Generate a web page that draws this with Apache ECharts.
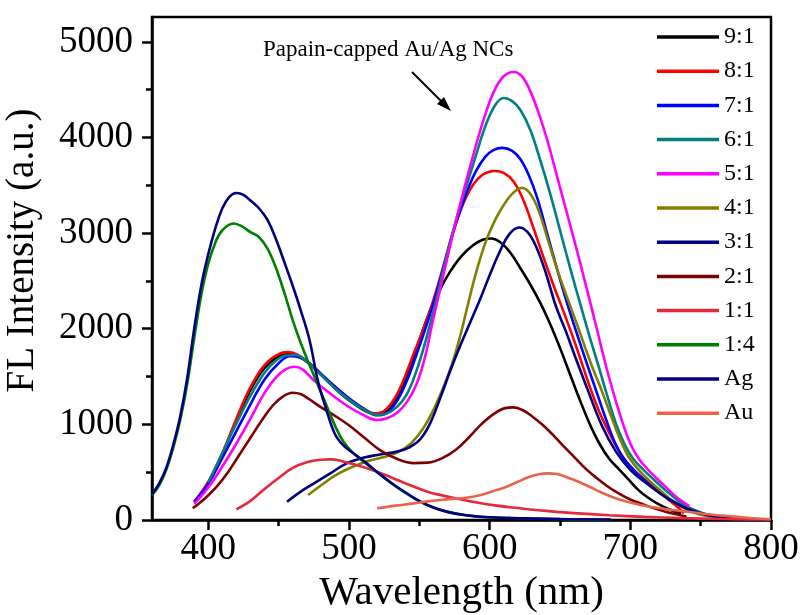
<!DOCTYPE html>
<html>
<head>
<meta charset="utf-8">
<script src="https://cdn.jsdelivr.net/npm/echarts@6/dist/echarts.min.js"></script>
<style>
  html, body { margin: 0; padding: 0; background: #fff; }
  #chart { width: 801px; height: 615px; }
</style>
</head>
<body>
<div id="chart"></div>
<script>
// wavelength (nm) / FL intensity (a.u.) pairs
const s91 = [[400,380],[410,690],[420,1040],[430,1360],[440,1590],[450,1710],[458,1735],[465,1705],[475,1600],[485,1450],[495,1310],[505,1200],[513,1130],[520,1110],[527,1150],[535,1300],[543,1580],[551,1920],[558,2200],[565,2420],[572,2600],[580,2760],[588,2870],[595,2930],[601,2944],[608,2900],[615,2790],[622,2630],[629,2460],[636,2270],[643,2050],[650,1800],[657,1530],[664,1260],[671,1010],[678,800],[685,640],[692,530],[699,420],[706,310],[713,230],[720,165],[727,115],[736,65]];
const s81 = [[390,190],[400,400],[410,700],[420,1060],[430,1390],[440,1620],[450,1735],[457,1755],[464,1725],[472,1640],[482,1500],[492,1370],[502,1250],[511,1160],[518,1115],[525,1140],[532,1260],[539,1470],[546,1740],[553,2000],[560,2300],[567,2650],[574,3010],[581,3300],[588,3500],[595,3610],[603,3650],[610,3630],[617,3540],[624,3344],[631,3060],[638,2760],[645,2470],[652,2200],[659,1920],[666,1620],[672,1360],[678,1130],[684,940],[690,770],[696,630],[702,530],[708,450],[715,370],[722,280],[729,190],[734,130],[738,70]];
const s71 = [[390,190],[400,380],[410,650],[420,930],[430,1210],[440,1470],[450,1640],[458,1712],[465,1700],[472,1630],[482,1500],[492,1370],[502,1250],[511,1160],[520,1095],[527,1120],[534,1240],[541,1450],[548,1730],[555,2030],[562,2360],[569,2740],[576,3100],[583,3400],[590,3640],[597,3800],[603,3870],[609,3891],[616,3860],[622,3770],[628,3600],[634,3360],[641,2990],[648,2620],[655,2270],[662,1950],[669,1640],[676,1340],[683,1040],[689,810],[695,650],[702,530],[709,430],[716,340],[724,250],[732,185],[740,135],[748,88],[756,50],[765,25],[775,11],[788,4],[800,2]];
const s61 = [[400,390],[410,700],[420,1010],[430,1300],[440,1540],[448,1665],[455,1720],[462,1725],[469,1670],[477,1560],[487,1420],[498,1280],[509,1170],[520,1100],[527,1115],[534,1180],[541,1310],[548,1560],[555,1900],[562,2300],[569,2740],[576,3130],[583,3470],[590,3800],[597,4120],[604,4340],[610,4413],[616,4380],[622,4285],[629,4076],[636,3762],[643,3414],[650,3031],[657,2647],[664,2280],[671,1920],[678,1580],[684,1280],[690,1000],[696,790],[702,640],[709,530],[717,418],[725,310],[733,215],[741,135],[750,75],[760,36],[770,16],[785,6],[800,2]];
const s51 = [[390,170],[400,340],[410,560],[420,800],[430,1060],[440,1330],[448,1490],[455,1575],[461,1602],[467,1575],[475,1460],[486,1330],[498,1200],[510,1100],[520,1045],[527,1065],[534,1120],[541,1230],[548,1420],[554,1700],[559,2040],[564,2360],[569,2680],[575,3060],[582,3470],[589,3850],[596,4200],[603,4480],[610,4640],[617,4685],[623,4640],[629,4480],[635,4250],[641,3971],[648,3588],[655,3205],[662,2822],[669,2420],[676,2010],[682,1650],[688,1330],[694,1040],[700,800],[706,640],[713,520],[720,418],[727,320],[734,225],[742,146]];
const s41 = [[471,261],[480,360],[490,465],[500,540],[512,610],[524,655],[535,710],[544,800],[552,940],[559,1120],[566,1350],[573,1620],[579,1920],[585,2280],[591,2620],[597,2900],[603,3110],[609,3270],[616,3410],[623,3473],[629,3410],[635,3230],[641,2950],[648,2620],[655,2330],[662,2050],[668,1800],[674,1560],[680,1340],[686,1100],[692,870],[698,680],[705,540],[713,420],[722,300],[731,190],[740,110],[750,55],[762,28],[774,15],[787,7],[800,3]];
const s31 = [[456,191],[466,300],[476,390],[487,490],[498,590],[510,650],[522,685],[534,715],[543,760],[551,850],[558,1020],[565,1280],[572,1560],[579,1820],[586,2060],[593,2300],[600,2560],[607,2800],[614,2990],[621,3059],[627,3010],[633,2860],[640,2580],[647,2240],[654,1980],[661,1700],[670,1350],[680,980],[690,710],[700,525],[710,400],[720,290],[730,195],[740,120],[750,70],[760,36],[775,12],[790,5],[800,2]];
const s21 = [[389,122],[398,230],[406,348],[414,500],[422,680],[430,860],[438,1040],[446,1200],[453,1290],[460,1330],[466,1315],[472,1260],[480,1180],[490,1090],[500,990],[511,860],[522,731],[534,640],[546,595],[556,600],[566,645],[576,735],[585,860],[594,1000],[603,1110],[611,1170],[617,1178],[624,1145],[631,1075],[638,990],[645,890],[652,780],[660,661],[668,540],[676,440],[684,350],[692,275],[700,215],[708,170],[716,128],[724,92],[732,62],[740,35]];
const s11 = [[420,112],[430,200],[440,325],[450,440],[460,545],[470,605],[480,630],[487,634],[495,615],[505,575],[515,530],[525,475],[535,415],[545,355],[557,290],[567,255],[578,220],[590,185],[605,150],[620,125],[640,95],[660,72],[685,50],[710,33],[735,20],[765,10],[800,5]];
const s14 = [[360,260],[365,360],[370,520],[375,750],[380,1040],[385,1420],[390,1900],[395,2350],[400,2680],[405,2900],[410,3030],[418,3100],[424,3070],[430,3010],[436,2960],[442,2840],[448,2640],[454,2380],[460,2090],[466,1840],[472,1620],[478,1410],[484,1200],[490,990],[496,820],[503,700],[512,590],[521,490],[530,385],[540,285],[550,195],[560,130],[570,85],[582,52],[600,28],[650,10],[686,5]];
const sAg = [[360,270],[365,380],[370,540],[375,780],[380,1080],[385,1480],[390,2000],[395,2450],[400,2780],[405,3050],[410,3260],[415,3380],[420,3420],[425,3400],[430,3340],[436,3260],[442,3140],[448,2940],[454,2700],[460,2450],[466,2180],[472,1880],[478,1450],[484,1150],[490,900],[496,780],[503,700],[512,600],[521,490],[530,390],[540,290],[550,200],[560,130],[570,85],[582,52],[595,32],[615,20],[650,10],[686,5]];
const sAu = [[520,122],[533,150],[546,174],[556,195],[565,209],[575,222],[582,230],[589,246],[597,275],[605,315],[612,348],[620,400],[628,450],[635,478],[641,488],[648,480],[656,440],[664,395],[671,348],[679,290],[690,225],[702,174],[715,135],[728,108],[741,87],[757,57],[774,35],[787,18],[800,8]];

const names = ['9:1','8:1','7:1','6:1','5:1','4:1','3:1','2:1','1:1','1:4','Ag','Au'];
const curves = [s91, s81, s71, s61, s51, s41, s31, s21, s11, s14, sAg, sAu];
const colors = ['#000000','#ff0000','#0000ff','#008080','#ff00ff','#808000','#000080','#800000','#e6283c','#008000','#000080','#e9634b'];

const xMajor = [400, 500, 600, 700, 800];
const xMinor = [450, 550, 650, 750];
const yMajor = [0, 1000, 2000, 3000, 4000, 5000];
const yMinor = [500, 1500, 2500, 3500, 4500];

const FONT = 'Liberation Serif';
const chart = echarts.init(document.getElementById('chart'), null, { renderer: 'canvas' });

const minorX = {
  type: 'value', min: 360, max: 800, position: 'bottom',
  axisLine: { show: false }, axisLabel: { show: false }, splitLine: { show: false },
  axisTick: { show: true, customValues: xMinor, length: 6, lineStyle: { color: '#000', width: 2.5 } }
};
const minorY = {
  type: 'value', min: 0, max: 5260, position: 'left',
  axisLine: { show: false }, axisLabel: { show: false }, splitLine: { show: false },
  axisTick: { show: true, customValues: yMinor, length: 6, lineStyle: { color: '#000', width: 2.5 } }
};

chart.setOption({
  animation: false,
  backgroundColor: '#fff',
  grid: { left: 152, right: 30, top: 17, bottom: 95, outerBoundsMode: 'none', containLabel: false,
          show: true, borderColor: '#000', borderWidth: 2.5 },
  xAxis: [{
    type: 'value', min: 360, max: 800,
    name: 'Wavelength (nm)', nameLocation: 'middle', nameGap: 47,
    nameTextStyle: { fontFamily: FONT, fontSize: 41, color: '#000' },
    axisLine: { lineStyle: { color: '#000', width: 2.5 } },
    axisTick: { customValues: xMajor, length: 10, lineStyle: { color: '#000', width: 2.5 } },
    axisLabel: { customValues: xMajor, margin: 11, fontFamily: FONT, fontSize: 37, color: '#000', formatter: v => String(v) },
    splitLine: { show: false }
  }, minorX],
  yAxis: [{
    type: 'value', min: 0, max: 5260,
    name: 'FL Intensity (a.u.)', nameLocation: 'middle', nameGap: 110,
    nameTextStyle: { fontFamily: FONT, fontSize: 39, color: '#000', padding: [0, 0, 0, 36] },
    axisLine: { lineStyle: { color: '#000', width: 2.5 } },
    axisTick: { customValues: yMajor, length: 10, lineStyle: { color: '#000', width: 2.5 } },
    axisLabel: { customValues: yMajor, margin: 19, fontFamily: FONT, fontSize: 37, color: '#000', formatter: v => String(v) },
    splitLine: { show: false }
  }, minorY],
  legend: {
    orient: 'vertical', left: 657, top: 25, padding: 0,
    icon: 'rect', itemWidth: 62, itemHeight: 3.5, itemGap: 10.2,
    textStyle: { fontFamily: FONT, fontSize: 24, lineHeight: 24, color: '#000' },
    data: names
  },
  graphic: [
    { type: 'text', left: 263, top: 38, style: { text: 'Papain-capped Au/Ag NCs', font: '23px "Liberation Serif"', fill: '#000' } },
    { type: 'line', shape: { x1: 412, y1: 72, x2: 444, y2: 104 }, style: { stroke: '#000', lineWidth: 2 } },
    { type: 'polygon', shape: { points: [[451, 111], [437, 104], [444, 97]] }, style: { fill: '#000' } }
  ],
  series: names.map((n, i) => ({
    name: n, type: 'line', data: curves[i],
    showSymbol: false, smooth: 0.4,
    color: colors[i],
    lineStyle: { width: 2.6, color: colors[i] },
    z: 2 + i
  }))
});
</script>
</body>
</html>
